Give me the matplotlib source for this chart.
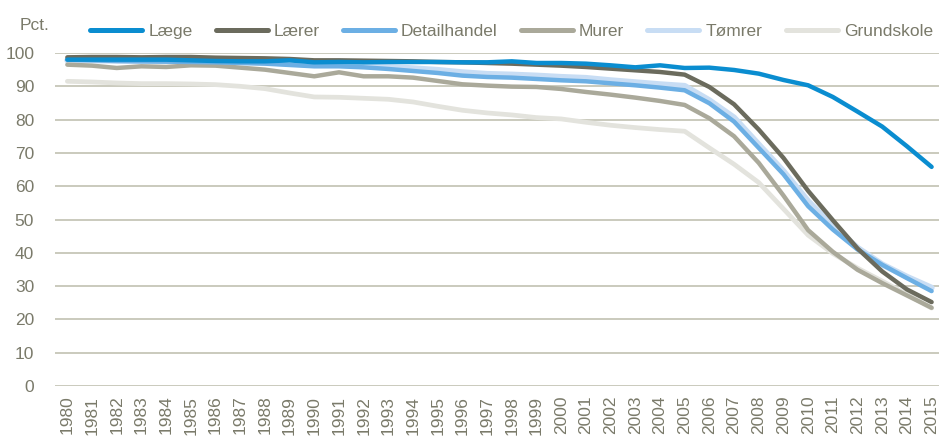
import matplotlib
matplotlib.use("Agg")
import matplotlib.pyplot as plt
from matplotlib import font_manager

years = list(range(1980, 2016))

laege = [98.0, 98.0, 98.0, 98.0, 98.0, 97.8, 97.6, 97.5, 97.5, 97.8, 97.2, 97.3, 97.2, 97.3, 97.3, 97.3,
         97.2, 97.2, 97.5, 97.0, 97.0, 96.8, 96.3, 95.7, 96.3, 95.5, 95.6, 94.9, 93.8, 91.9, 90.3, 86.8,
         82.4, 77.9, 72.0, 65.8]
laerer = [98.7, 98.8, 98.8, 98.7, 98.8, 98.8, 98.6, 98.5, 98.4, 98.2, 97.8, 97.8, 97.7, 97.6, 97.5, 97.3,
          97.2, 97.0, 96.8, 96.5, 96.2, 95.8, 95.3, 94.8, 94.3, 93.5, 89.8, 84.6, 77.0, 68.5, 58.6, 49.8,
          41.3, 34.4, 29.0, 25.2]
detailhandel = [98.0, 97.8, 97.6, 97.5, 97.4, 97.3, 97.2, 97.0, 96.8, 96.4, 96.0, 96.0, 95.7, 95.2, 94.6, 94.0,
                93.2, 92.8, 92.6, 92.2, 91.8, 91.5, 90.9, 90.3, 89.6, 88.8, 84.9, 79.4, 71.5, 63.6, 54.0, 47.0,
                41.0, 36.4, 32.4, 28.5]
murer = [96.5, 96.2, 95.5, 96.0, 95.8, 96.3, 96.2, 95.6, 95.0, 94.0, 93.0, 94.2, 93.0, 93.0, 92.6, 91.6,
         90.6, 90.2, 89.9, 89.8, 89.2, 88.3, 87.5, 86.6, 85.6, 84.4, 80.4, 75.0, 67.0, 57.2, 46.8, 40.3,
         34.9, 30.9, 27.2, 23.5]
toemrer = [97.8, 97.8, 97.7, 97.6, 97.6, 97.5, 97.4, 97.3, 97.2, 96.8, 96.5, 96.4, 96.2, 95.8, 95.4, 94.9,
           94.2, 93.7, 93.5, 93.2, 92.8, 92.5, 91.8, 91.2, 90.6, 90.1, 85.8, 80.6, 72.5, 64.5, 55.5, 48.0,
           41.5, 36.5, 32.8, 29.5]
grundskole = [91.5, 91.3, 91.0, 90.8, 90.8, 90.7, 90.5, 90.0, 89.3, 88.0, 86.8, 86.7, 86.4, 86.1, 85.3, 84.0,
              82.8, 82.0, 81.4, 80.6, 80.2, 79.2, 78.3, 77.6, 77.0, 76.5, 71.5, 66.6, 61.1, 53.2, 45.3, 39.8,
              35.4, 31.5, 27.5, 23.4]

y_ticks = [0, 10, 20, 30, 40, 50, 60, 70, 80, 90, 100]

names = [f.name for f in font_manager.fontManager.ttflist]
if "Liberation Sans Narrow" in names:
    fam = ["Liberation Sans Narrow", "DejaVu Sans"]
    fs = 13.5
else:
    fam = ["Liberation Sans", "DejaVu Sans"]
    fs = 12.5
plt.rcParams["font.family"] = fam

txt_col = "#7a7a6a"
grid_col = "#c6c6b8"

fig = plt.figure(figsize=(9.39, 4.37), dpi=100)
ax = fig.add_axes([55 / 939, 51 / 437, 1 - 55 / 939, (386 - 53) / 437])

series = [
    ("Grundskole", grundskole, "#e3e3dd", 3.4, 1),
    ("Tømrer", toemrer, "#c8ddf4", 4.4, 2),
    ("Murer", murer, "#aaa99a", 3.2, 3),
    ("Detailhandel", detailhandel, "#6cafe4", 3.2, 4),
    ("Lærer", laerer, "#6b6b5d", 3.2, 5),
    ("Læge", laege, "#0a8dd0", 3.2, 6),
]
handles = {}
for name, vals, col, lw, z in series:
    (ln,) = ax.plot(years, vals, color=col, lw=lw, zorder=z, solid_capstyle="round",
                    solid_joinstyle="round")
    handles[name] = ln

ax.set_xlim(1979.5, 2015.3)
ax.set_ylim(0, 100)
ax.set_yticks(y_ticks)
ax.set_xticks(years)
ax.set_xticklabels([str(y) for y in years], rotation=90)
ax.yaxis.grid(True, color=grid_col, lw=1.3)
ax.set_axisbelow(True)
for s in ax.spines.values():
    s.set_visible(False)
ax.tick_params(axis="both", length=0, colors=txt_col, labelsize=fs)
ax.tick_params(axis="y", pad=15)
ax.tick_params(axis="x", pad=7)

order = ["Læge", "Lærer", "Detailhandel", "Murer", "Tømrer", "Grundskole"]
leg = fig.legend([handles[n] for n in order], order, loc="center left",
                 bbox_to_anchor=(90 / 939, 1 - 31 / 437), ncol=6, frameon=False,
                 handlelength=3.0, handletextpad=0.35, columnspacing=1.33,
                 fontsize=fs, borderaxespad=0, borderpad=0)
for t in leg.get_texts():
    t.set_color(txt_col)
for h in leg.legend_handles:
    h.set_linewidth(3.6)
    h.set_solid_capstyle("round")

fig.text(20 / 939, 1 - 25 / 437, "Pct.", color=txt_col, fontsize=fs, va="center", ha="left")

fig.savefig("out.png", dpi=100)
